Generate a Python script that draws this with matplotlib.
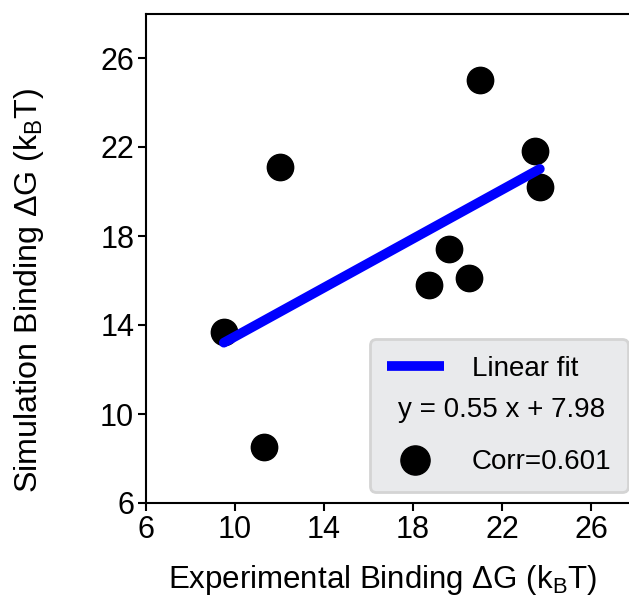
import numpy as np
import matplotlib
matplotlib.use("Agg")
import matplotlib.pyplot as plt
from matplotlib.lines import Line2D

plt.rcParams['font.family'] = ['Liberation Sans', 'DejaVu Sans']
plt.rcParams['mathtext.fontset'] = 'custom'
plt.rcParams['mathtext.rm'] = 'Liberation Sans'
plt.rcParams['mathtext.it'] = 'Liberation Sans'

# experimental vs simulation binding free energies (kBT)
exp_dg = [9.5, 11.3, 12.0, 18.7, 19.6, 20.5, 21.0, 23.5, 23.7]
sim_dg = [13.7, 8.5, 21.1, 15.8, 17.4, 16.1, 25.0, 21.8, 20.2]
slope = 0.55
intercept = 7.98
corr = 0.601
ticks = [6, 10, 14, 18, 22, 26]

fig = plt.figure(figsize=(6.29, 6.07), dpi=100)
ax = fig.add_axes([146 / 629, 104 / 607, 489.5 / 629, 489.5 / 607])

x = np.array(exp_dg)
xfit = np.array([x.min(), x.max()])
ax.plot(xfit, slope * xfit + intercept, color='blue', lw=7, solid_capstyle='round', zorder=3)
ax.scatter(exp_dg, sim_dg, s=360, color='black', zorder=2)

ax.set_xlim(6, 28)
ax.set_ylim(6, 28)
ax.set_xticks(ticks)
ax.set_yticks(ticks)
ax.tick_params(labelsize=22, length=5.5, width=1.5, direction='out', pad=3)
for sp in ax.spines.values():
    sp.set_linewidth(1.5)

ax.set_xlabel(r'Experimental Binding $\Delta$G (k$_\mathregular{B}$T)', fontsize=22.5)
ax.set_ylabel(r'Simulation Binding $\Delta$G (k$_\mathregular{B}$T)', fontsize=23.2)
ax.xaxis.set_label_coords(0.483, -0.122)
ax.yaxis.set_label_coords(-0.205, 0.435)

handles = [
    Line2D([], [], color='blue', lw=7, solid_capstyle='butt'),
    Line2D([], [], color='none'),
    Line2D([], [], color='black', marker='o', ls='none', markersize=21),
]
labels = ['Linear fit', ' ', 'Corr=%.3f' % corr]
leg = fig.legend(handles, labels, loc='lower right',
                 bbox_to_anchor=(628 / 629, 115 / 607), bbox_transform=fig.transFigure,
                 borderaxespad=0, fontsize=20, handlelength=2.05, labelspacing=0.75,
                 borderpad=0.6, handletextpad=1.0, fancybox=True, framealpha=1)
leg.get_frame().set_facecolor('#e9eaec')
leg.get_frame().set_edgecolor('#d4d4d4')
leg.get_frame().set_linewidth(2)

# fit equation sits in the middle row of the legend box
fig.text(398 / 629, (607 - 410) / 607, 'y = %.2f x + %.2f' % (slope, intercept),
         fontsize=20, va='center', ha='left', zorder=6)

fig.savefig('out.png', dpi=100)
